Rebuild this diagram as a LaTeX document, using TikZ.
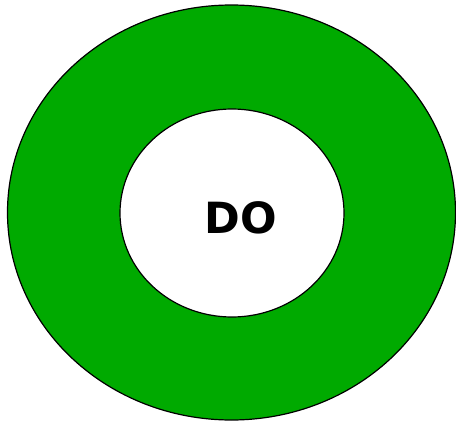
\documentclass[tikz,border=0pt]{standalone}
\usepackage{fontspec}
\setmainfont{DejaVu Sans}
\definecolor{ringgreen}{HTML}{00AA00}
\tikzset{ring/.style={draw=black, line width=1.2pt}}
\begin{document}
\begin{tikzpicture}[x=1pt,y=-1pt]
\useasboundingbox (0,0) rectangle (456,423);
\path[ring, fill=ringgreen] (231.5,212.5) ellipse [x radius=224, y radius=207.5];
\path[ring, fill=white] (232,213) ellipse [x radius=112, y radius=104];
\node[font=\bfseries\fontsize{43}{48}\selectfont, inner sep=0pt, anchor=base] (lbl) at (240.5,233) {DO};
\end{tikzpicture}
\end{document}
